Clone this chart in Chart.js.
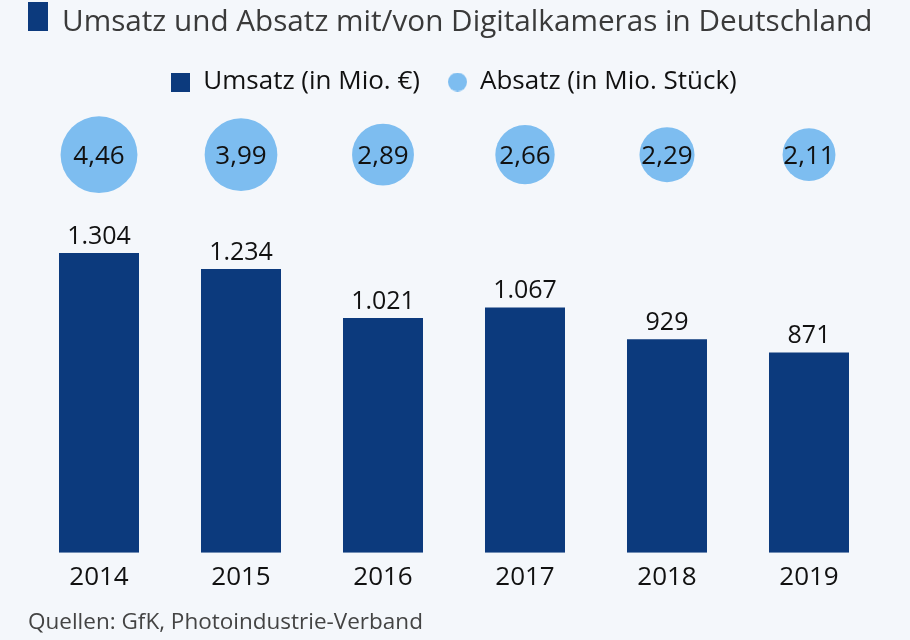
<!DOCTYPE html>
<html><head><meta charset="utf-8">
<script src="https://cdn.jsdelivr.net/npm/chart.js@4"></script>
<style>html,body{margin:0;padding:0;background:#f4f7fb;} #wrap{width:910px;height:640px;position:relative}</style>
</head><body><div id="wrap"><canvas id="c" width="910" height="640"></canvas></div>
<script>
const years = ['2014', '2015', '2016', '2017', '2018', '2019'];
const umsatz = [1304, 1234, 1021, 1067, 929, 871];
const absatz = [4.46, 3.99, 2.89, 2.66, 2.29, 2.11];
const seriesNames = ['Umsatz (in Mio. €)', 'Absatz (in Mio. Stück)'];
const titleText = 'Umsatz und Absatz mit/von Digitalkameras in Deutschland';
const sourceText = 'Quellen: GfK, Photoindustrie-Verband';

const BAR_COLOR = '#0c3a7d';
const BUBBLE_COLOR = '#7dbdf0';
const Y_MAX = 1947;
const BUBBLE_ROW = 1731;
const SANS = '"Open Sans", sans-serif';

function marker(shape, color, size) {
  const c = document.createElement('canvas');
  c.width = size; c.height = size;
  const g = c.getContext('2d');
  g.fillStyle = color;
  if (shape === 'rect') g.fillRect(0, 0, size, size);
  else { g.beginPath(); g.arc(size / 2, size / 2, size / 2, 0, Math.PI * 2); g.fill(); }
  return c;
}

const headerPlugin = {
  id: 'header',
  afterDraw(chart) {
    const ctx = chart.ctx;
    ctx.save();
    ctx.fillStyle = BAR_COLOR;
    ctx.fillRect(28, 2, 20, 29);
    ctx.font = '29.7px ' + SANS;
    ctx.fillStyle = '#3a3a3a';
    ctx.textBaseline = 'alphabetic';
    ctx.textAlign = 'left';
    ctx.fillText(titleText, 62, 31);
    ctx.restore();
  }
};

const valuePlugin = {
  id: 'values',
  afterDatasetsDraw(chart) {
    const ctx = chart.ctx;
    ctx.save();
    ctx.fillStyle = '#111';
    ctx.textAlign = 'center';
    ctx.textBaseline = 'alphabetic';
    ctx.font = '25px ' + SANS;
    chart.getDatasetMeta(0).data.forEach((el, i) => {
      ctx.fillText(umsatz[i].toLocaleString('de-DE'), el.x, el.y - 9);
    });
    ctx.font = '26px ' + SANS;
    chart.getDatasetMeta(1).data.forEach((el, i) => {
      ctx.fillText(absatz[i].toLocaleString('de-DE', {minimumFractionDigits: 2}), el.x, el.y + 9);
    });
    ctx.restore();
  }
};

new Chart(document.getElementById('c'), {
  type: 'bar',
  data: {
    labels: years,
    datasets: [
      {
        label: seriesNames[0],
        data: umsatz,
        backgroundColor: BAR_COLOR,
        categoryPercentage: 1,
        barPercentage: 0.5634,
        order: 2
      },
      {
        type: 'bubble',
        label: seriesNames[1],
        data: years.map((yr, i) => ({x: yr, y: BUBBLE_ROW, r: 18.2 * Math.sqrt(absatz[i])})),
        backgroundColor: BUBBLE_COLOR,
        borderWidth: 0,
        hoverRadius: 0,
        clip: false,
        order: 1
      }
    ]
  },
  options: {
    responsive: false,
    animation: false,
    devicePixelRatio: 1,
    events: [],
    layout: {autoPadding: false, padding: {left: 28, right: 30, top: 41, bottom: 0}},
    scales: {
      x: {
        offset: true,
        grid: {display: false},
        border: {display: false},
        ticks: {font: {family: SANS, size: 26}, color: '#111', padding: 1}
      },
      y: {display: false, min: 0, max: Y_MAX}
    },
    plugins: {
      tooltip: {enabled: false},
      legend: {
        position: 'top',
        align: 'center',
        labels: {
          usePointStyle: true,
          boxWidth: 19,
          boxHeight: 19,
          padding: 28,
          color: '#111',
          font: {family: SANS, size: 26},
          generateLabels: () => [
            {text: seriesNames[0], pointStyle: marker('rect', BAR_COLOR, 19), fillStyle: BAR_COLOR, strokeStyle: 'transparent', lineWidth: 0, hidden: false, datasetIndex: 0, fontColor: '#111'},
            {text: seriesNames[1], pointStyle: marker('circle', BUBBLE_COLOR, 19), fillStyle: BUBBLE_COLOR, strokeStyle: 'transparent', lineWidth: 0, hidden: false, datasetIndex: 1, fontColor: '#111'}
          ]
        }
      },
      subtitle: {
        display: true,
        position: 'bottom',
        align: 'start',
        text: sourceText,
        color: '#444',
        font: {family: SANS, size: 22.5, weight: 'normal'},
        padding: {top: 15, bottom: 4}
      },
      title: {display: false}
    }
  },
  plugins: [headerPlugin, valuePlugin]
});
</script>
</body></html>
